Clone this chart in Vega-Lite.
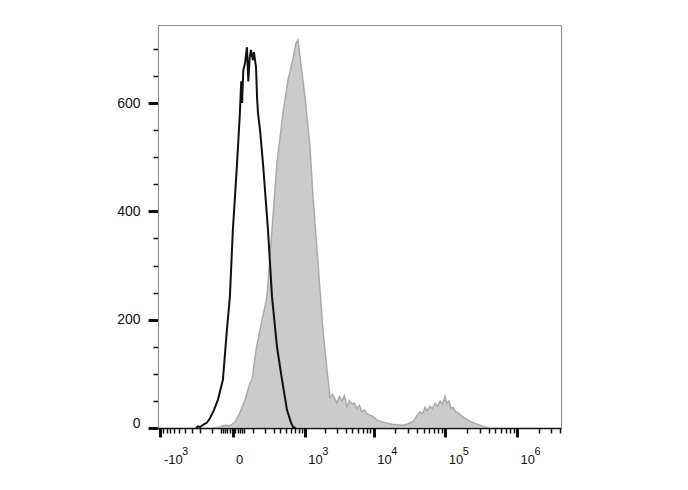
{
  "$schema": "https://vega.github.io/schema/vega-lite/v6.json",
  "width": 403,
  "height": 403,
  "autosize": "none",
  "padding": {"left": 158, "top": 25, "right": 127, "bottom": 62},
  "background": "white",
  "config": {
    "view": {"stroke": "#8c8c8c", "strokeWidth": 1},
    "font": "Liberation Sans",
    "axis": {"labelFont": "Liberation Sans", "labelColor": "#111", "grid": false, "title": null}
  },
  "datasets": {
    "stained": [
      {"x": -103, "count": 0}, {"x": -55, "count": 2}, {"x": -30, "count": 5}, {"x": -10, "count": 4},
      {"x": 9, "count": 11}, {"x": 29, "count": 28}, {"x": 54, "count": 52}, {"x": 82, "count": 83},
      {"x": 95, "count": 89}, {"x": 123, "count": 144}, {"x": 155, "count": 181}, {"x": 221, "count": 242},
      {"x": 279, "count": 366}, {"x": 346, "count": 489}, {"x": 443, "count": 582}, {"x": 539, "count": 642},
      {"x": 628, "count": 674}, {"x": 700, "count": 700}, {"x": 729, "count": 711}, {"x": 784, "count": 716},
      {"x": 843, "count": 685}, {"x": 1009, "count": 611}, {"x": 1203, "count": 519}, {"x": 1336, "count": 426},
      {"x": 1587, "count": 305}, {"x": 1882, "count": 181}, {"x": 2155, "count": 107}, {"x": 2383, "count": 56},
      {"x": 2600, "count": 62}, {"x": 3010, "count": 46}, {"x": 3250, "count": 58}, {"x": 3552, "count": 50},
      {"x": 3850, "count": 60}, {"x": 4187, "count": 39}, {"x": 4500, "count": 50}, {"x": 4935, "count": 44},
      {"x": 5300, "count": 46}, {"x": 5808, "count": 36}, {"x": 6300, "count": 42}, {"x": 6842, "count": 30},
      {"x": 7400, "count": 33}, {"x": 8049, "count": 26}, {"x": 9575, "count": 22}, {"x": 11130, "count": 15},
      {"x": 13000, "count": 11}, {"x": 15380, "count": 9}, {"x": 18000, "count": 7}, {"x": 21220, "count": 6},
      {"x": 25000, "count": 5}, {"x": 29280, "count": 7}, {"x": 35510, "count": 12}, {"x": 40000, "count": 22},
      {"x": 44470, "count": 30}, {"x": 48000, "count": 26}, {"x": 52230, "count": 38}, {"x": 56000, "count": 32},
      {"x": 61330, "count": 40}, {"x": 66000, "count": 36}, {"x": 72000, "count": 46}, {"x": 78000, "count": 40},
      {"x": 84520, "count": 50}, {"x": 92000, "count": 44}, {"x": 99250, "count": 58}, {"x": 106000, "count": 45},
      {"x": 112800, "count": 50}, {"x": 120000, "count": 36}, {"x": 128260, "count": 38}, {"x": 140000, "count": 30},
      {"x": 150500, "count": 28}, {"x": 176700, "count": 20}, {"x": 210000, "count": 14}, {"x": 243400, "count": 10},
      {"x": 290000, "count": 6}, {"x": 335500, "count": 3}, {"x": 420000, "count": 0}
    ],
    "control": [
      {"x": -245, "count": 0}, {"x": -223, "count": 3}, {"x": -200, "count": 2}, {"x": -174, "count": 6},
      {"x": -140, "count": 10}, {"x": -117, "count": 18}, {"x": -90, "count": 33}, {"x": -66, "count": 52},
      {"x": -40, "count": 89}, {"x": -22, "count": 181}, {"x": -10, "count": 242}, {"x": 1, "count": 366},
      {"x": 17, "count": 489}, {"x": 29, "count": 582}, {"x": 35, "count": 640}, {"x": 39, "count": 600},
      {"x": 45, "count": 660}, {"x": 54, "count": 674}, {"x": 64, "count": 703}, {"x": 72, "count": 640},
      {"x": 80, "count": 683}, {"x": 88, "count": 698}, {"x": 101, "count": 679}, {"x": 108, "count": 694},
      {"x": 123, "count": 666}, {"x": 131, "count": 610}, {"x": 138, "count": 582}, {"x": 155, "count": 550},
      {"x": 181, "count": 489}, {"x": 232, "count": 366}, {"x": 279, "count": 242}, {"x": 346, "count": 150},
      {"x": 426, "count": 89}, {"x": 519, "count": 33}, {"x": 605, "count": 10}, {"x": 652, "count": 2},
      {"x": 720, "count": 0}
    ]
  },
  "resolve": {"axis": {"x": "independent"}},
  "layer": [
    {
      "data": {"name": "stained"},
      "mark": {"type": "area", "color": "#cbcbcb", "stroke": "#a9a9a9", "strokeWidth": 1.5, "clip": true},
      "encoding": {
        "x": {
          "field": "x", "type": "quantitative",
          "scale": {"type": "symlog", "constant": 110, "domain": [-1090, 4080000], "nice": false, "zero": false},
          "axis": {
            "orient": "bottom",
            "values": [-1000, -900, -800, -700, -600, -500, -400, -300, -200, -100, -50, -40, -30, -20, -10, 0, 10, 20, 30, 40, 50, 100, 200, 300, 400, 500, 600, 700, 800, 900, 1000, 2000, 3000, 4000, 5000, 6000, 7000, 8000, 9000, 10000, 20000, 30000, 40000, 50000, 60000, 70000, 80000, 90000, 100000, 200000, 300000, 400000, 500000, 600000, 700000, 800000, 900000, 1000000, 2000000, 3000000, 4000000],
            "tickCount": 200,
            "labelExpr": "datum.value == -1000 ? '-10' : datum.value == 0 ? '0' : indexof([1000,10000,100000,1000000], datum.value) >= 0 ? '10' : ''",
            "labelAlign": "left",
            "labelOffset": 3,
            "labelFontSize": 13,
            "labelPadding": 16,
            "labelOverlap": false,
            "labelFlush": false,
            "domainColor": "#111",
            "domainWidth": 1.5,
            "tickColor": "#111",
            "tickSize": {"condition": {"test": "indexof([-1000,0,1000,10000,100000,1000000], datum.value) >= 0", "value": 9}, "value": 5},
            "tickWidth": {"condition": {"test": "indexof([-1000,0,1000,10000,100000,1000000], datum.value) >= 0", "value": 3}, "value": 1.5}
          }
        },
        "y": {
          "field": "count", "type": "quantitative",
          "scale": {"domain": [0, 744], "nice": false},
          "axis": {
            "values": [0, 50, 100, 150, 200, 250, 300, 350, 400, 450, 500, 550, 600, 650, 700],
            "tickCount": 50,
            "labelExpr": "datum.value % 200 === 0 ? datum.label : ''",
            "labelFontSize": 14,
            "labelPadding": 8,
            "labelOffset": {"condition": {"test": "datum.value === 0", "value": -5}, "value": 0},
            "domainColor": "#8c8c8c",
            "domainWidth": 1,
            "tickColor": "#111",
            "tickSize": {"condition": {"test": "datum.value % 200 === 0", "value": 10}, "value": 5},
            "tickWidth": {"condition": {"test": "datum.value % 200 === 0", "value": 3}, "value": 1.5}
          }
        }
      }
    },
    {
      "data": {"name": "control"},
      "mark": {"type": "line", "color": "#111111", "strokeWidth": 2, "clip": true},
      "encoding": {
        "x": {
          "field": "x", "type": "quantitative",
          "axis": {
            "orient": "bottom",
            "values": [-1000, 1000, 10000, 100000, 1000000],
            "tickCount": 50,
            "labelExpr": "datum.value == -1000 || datum.value == 1000 ? '3' : datum.value == 10000 ? '4' : datum.value == 100000 ? '5' : '6'",
            "labelAlign": "left",
            "labelOffset": {"condition": {"test": "datum.value < 0", "value": 21}, "value": 17},
            "labelFontSize": 11,
            "labelPadding": 17,
            "labelOverlap": false,
            "labelFlush": false,
            "domain": false,
            "ticks": false,
            "tickSize": 0
          }
        },
        "y": {"field": "count", "type": "quantitative"}
      }
    }
  ]
}
